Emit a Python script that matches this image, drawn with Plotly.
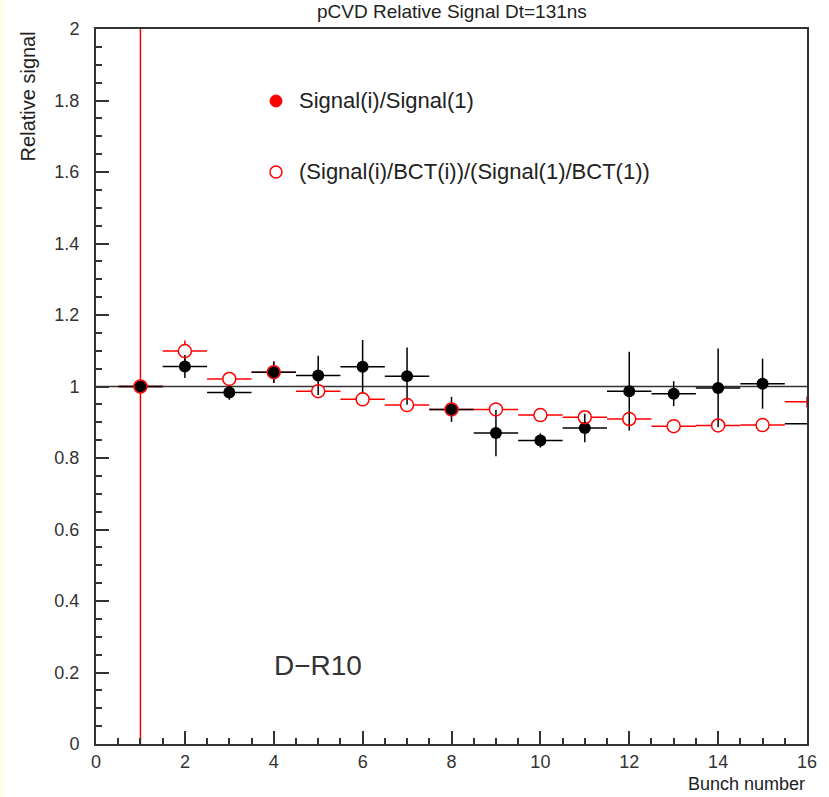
import plotly.graph_objects as go

# ---------------- data ----------------
bunch = list(range(1, 17))
bin_half_width = [0.5] * 16
signal_ratio = [1.000, 1.056, 0.983, 1.040, 1.031, 1.055, 1.029, 0.936,
                0.870, 0.849, 0.884, 0.987, 0.980, 0.996, 1.008, 0.896]
signal_ratio_err = [0.0, 0.032, 0.02, 0.03, 0.055, 0.075, 0.08, 0.035,
                    0.065, 0.02, 0.04, 0.11, 0.035, 0.11, 0.07, 0.0]
norm_ratio = [1.000, 1.099, 1.021, 1.040, 0.987, 0.964, 0.948, 0.936,
              0.936, 0.920, 0.914, 0.909, 0.889, 0.891, 0.892, 0.957]
norm_ratio_err = [1.0, 0.03, 0.01, 0.03, 0.01, 0.01, 0.01, 0.01,
                  0.01, 0.01, 0.01, 0.01, 0.01, 0.01, 0.01, 0.015]
ref_level = 1.0

title_text = "pCVD Relative Signal Dt=131ns"
x_title = "Bunch number"
y_title = "Relative signal"
legend_labels = ["Signal(i)/Signal(1)", "(Signal(i)/BCT(i))/(Signal(1)/BCT(1))"]
tag_text = "D\u2212R10"

FONT = "Liberation Sans, Arial, sans-serif"
RED = "#ff0000"
BLACK = "#000000"
AX = "#333333"

# marker visibility: last bin centre sits on the frame edge, ROOT does not draw it
blk_sizes = [12] * 15 + [0]
red_sizes = [13] * 15 + [0]

fig = go.Figure()

# 1) red error bars
fig.add_trace(go.Scatter(
    x=bunch, y=norm_ratio, mode="markers",
    marker=dict(size=0.1, color=RED, opacity=0),
    error_x=dict(type="data", array=bin_half_width, color=RED, thickness=1.5, width=0),
    error_y=dict(type="data", array=norm_ratio_err, color=RED, thickness=1.5, width=0),
    showlegend=False, hoverinfo="skip", cliponaxis=True))

# 2) white interior of the open circles (gap in the error bars)
fig.add_trace(go.Scatter(
    x=bunch, y=norm_ratio, mode="markers",
    marker=dict(size=red_sizes, color="white", opacity=1, line=dict(width=0)),
    showlegend=False, hoverinfo="skip"))

# 3) black series
fig.add_trace(go.Scatter(
    x=bunch, y=signal_ratio, mode="markers",
    marker=dict(size=blk_sizes, color=BLACK, opacity=1, line=dict(width=0)),
    error_x=dict(type="data", array=bin_half_width, color=BLACK, thickness=1.5, width=0),
    error_y=dict(type="data", array=signal_ratio_err, color=BLACK, thickness=1.5, width=0),
    name=legend_labels[0], showlegend=False))

# 4) red open circles
fig.add_trace(go.Scatter(
    x=bunch, y=norm_ratio, mode="markers",
    marker=dict(size=red_sizes, symbol="circle-open", color=RED, opacity=1,
                line=dict(width=1.5, color=RED)),
    name=legend_labels[1], showlegend=False))

L, R, T, B = 96, 18, 29, 53
W, H = 829, 797
pw, ph = W - L - R, H - T - B

def px(xp):
    return (xp - L) / pw

def py(yp):
    return (H - B - yp) / ph

fig.update_layout(
    width=W, height=H,
    margin=dict(l=L, r=R, t=T, b=B, pad=0),
    paper_bgcolor="white", plot_bgcolor="white",
    font=dict(family=FONT, size=18, color="#222222"),
    showlegend=False,
    xaxis=dict(range=[0, 16], dtick=2, tick0=0, ticks="inside", ticklen=13, tickwidth=1.5,
               tickcolor=AX, showline=True, linecolor=AX, linewidth=2, mirror=True,
               showgrid=False, zeroline=False, tickfont=dict(size=18, color="#333333"),
               minor=dict(dtick=0.5, ticks="inside", ticklen=6, tickwidth=1.5, tickcolor=AX, showgrid=False)),
    yaxis=dict(range=[0, 2], dtick=0.2, tick0=0, ticks="inside", ticklen=13, tickwidth=1.5,
               tickcolor=AX, showline=True, linecolor=AX, linewidth=2, mirror=True,
               showgrid=False, zeroline=False, tickfont=dict(size=18, color="#333333"),
               tickformat="~g", ticklabelstandoff=11,
               minor=dict(dtick=0.05, ticks="inside", ticklen=6, tickwidth=1.5, tickcolor=AX, showgrid=False)),
)

shapes = [
    dict(type="line", xref="x", yref="y", x0=0, x1=16, y0=ref_level, y1=ref_level,
         line=dict(color=AX, width=1.5), layer="below"),
    dict(type="rect", xref="paper", yref="paper", x0=px(0), x1=px(4), y0=py(H), y1=py(0),
         fillcolor="#ffffe6", line=dict(width=0), layer="below"),
    # legend symbols
    dict(type="circle", xref="paper", yref="paper", xsizemode="pixel", ysizemode="pixel",
         xanchor=px(277), yanchor=py(101), x0=-6, x1=6, y0=-6, y1=6,
         fillcolor=RED, line=dict(color=RED, width=1)),
    dict(type="circle", xref="paper", yref="paper", xsizemode="pixel", ysizemode="pixel",
         xanchor=px(277), yanchor=py(172), x0=-6, x1=6, y0=-6, y1=6,
         fillcolor="white", line=dict(color=RED, width=1.5)),
]
fig.update_layout(shapes=shapes)

ann = [
    dict(text=title_text, xref="paper", yref="paper", x=0.5, y=py(12), xanchor="center",
         yanchor="middle", showarrow=False, font=dict(size=19, color="#222222")),
    dict(text=x_title, xref="paper", yref="paper", x=px(811), y=py(784), xanchor="right",
         yanchor="middle", showarrow=False, font=dict(size=18, color="#222222")),
    dict(text=y_title, xref="paper", yref="paper", x=px(28), y=py(29), xanchor="center",
         yanchor="top", textangle=-90, showarrow=False, font=dict(size=20, color="#222222")),
    dict(text=legend_labels[0], xref="paper", yref="paper", x=px(298), y=py(101), xanchor="left",
         yanchor="middle", showarrow=False, font=dict(size=22, color="#222222")),
    dict(text=legend_labels[1], xref="paper", yref="paper", x=px(298), y=py(172), xanchor="left",
         yanchor="middle", showarrow=False, font=dict(size=22, color="#222222")),
    dict(text=tag_text, xref="paper", yref="paper", x=px(273), y=py(665), xanchor="left",
         yanchor="middle", showarrow=False, font=dict(size=28, color="#333333")),
]
fig.update_layout(annotations=ann)

fig.write_html("out.html")
